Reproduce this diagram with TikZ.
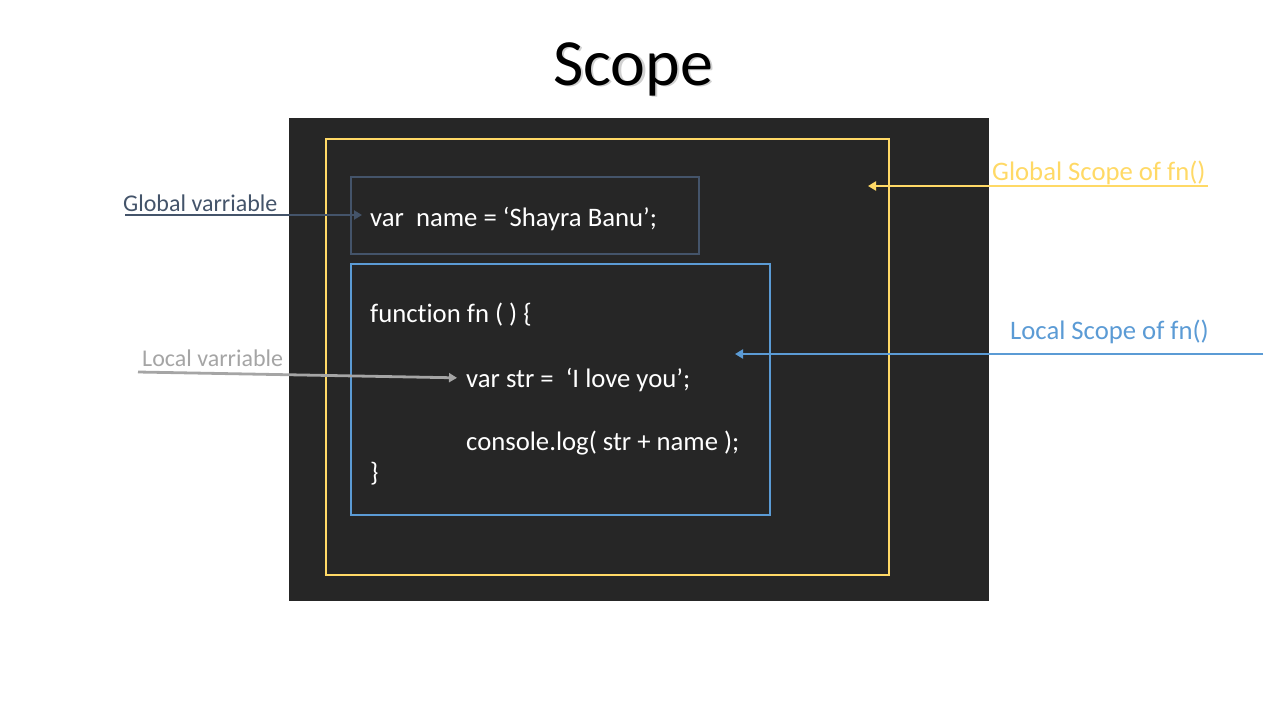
\documentclass[tikz,border=0pt]{standalone}
\usepackage{fontspec}
\setmainfont[Ligatures={NoCommon,NoDiscretionary,NoRare}]{Carlito}
\usetikzlibrary{arrows.meta}
\definecolor{bgdark}{HTML}{262626}
\definecolor{gold}{HTML}{FFD966}
\definecolor{sky}{HTML}{5B9BD5}
\definecolor{slate}{HTML}{44546A}
\definecolor{silver}{HTML}{A5A5A5}
\tikzset{
  codetext/.style={text=white, font=\fontsize{26.7}{30}\selectfont, inner sep=0pt, anchor=base west},
  lbl/.style={font=\fontsize{24}{28}\selectfont, inner sep=0pt, anchor=base west},
  biglbl/.style={font=\fontsize{26.7}{30}\selectfont, inner sep=0pt, anchor=base west},
  arr/.style={line width=2.8pt, -{Triangle[length=8pt,width=9pt]}},
}
\begin{document}
\begin{tikzpicture}[x=1pt,y=-1pt]
\useasboundingbox (0,0) rectangle (1280,720);
% title with soft shadow
\node[font=\fontsize{66}{74}\selectfont, text=black!30, opacity=0.6, inner sep=0pt, anchor=base] (titleshadow) at (635.5,86.5) {Scope};
\node[font=\fontsize{66}{74}\selectfont, inner sep=0pt, anchor=base] (title) at (633,85) {Scope};
% panels
\fill[bgdark] (289,118) rectangle (989,601);
\draw[gold, line width=1.6pt] (326,139) rectangle (889,575);
\draw[slate, line width=1.6pt] (351,177) rectangle (699,254);
\draw[sky, line width=1.6pt] (351,264) rectangle (770,515);
% code
\node[codetext] (name) at (370,226) {var\ \ name = ‘Shayra Banu’;};
\node[codetext] (fn) at (370,322) {function fn ( ) \{};
\node[codetext] (str) at (466,387) {var str =\ \ ‘I love you’;};
\node[codetext] (log) at (466,450) {console.log( str + name );};
\node[codetext] (close) at (370,481) {\}};
% labels
\node[lbl, text=slate] (glbl) at (123,211) {Global varriable};
\node[lbl, text=silver] (llbl) at (142,366) {Local varriable};
\node[biglbl, text=gold] (gslbl) at (992,180) {Global Scope of fn()};
\node[biglbl, text=sky] (lslbl) at (1010,339) {Local Scope of fn()};
% connector endpoints
\coordinate (gvstart) at (125,215);
\coordinate (lvstart) at (138,372);
\coordinate (gsstart) at (1208,186);
\coordinate (gsend) at (868,186);
\coordinate (lsstart) at (1263,354);
\coordinate (lsend) at (735,354);
% arrows
\draw[arr, slate, shorten >=8pt] (gvstart) -- (name.west |- gvstart);
\draw[arr, silver, shorten >=9pt] (lvstart) -- ([yshift=9pt]str.base west);
\draw[arr, gold] (gsstart) -- (gsend);
\draw[arr, sky] (lsstart) -- (lsend);
\end{tikzpicture}
\end{document}
